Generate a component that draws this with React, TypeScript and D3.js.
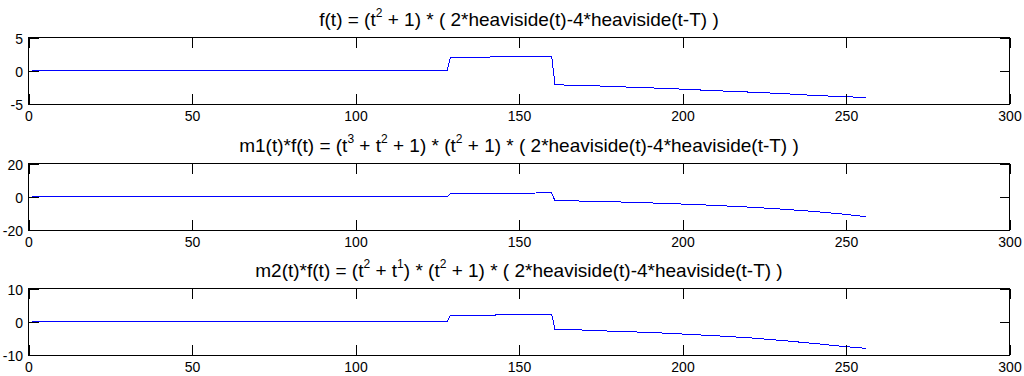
import React, { useEffect, useRef } from "react";
import * as d3 from "d3";

// sample positions (t index)
const tSamples = [1, 128, 129, 140, 150, 160, 161, 170, 180, 190, 200, 210, 220, 230, 240, 250, 256];

// f(t)
const fValues = [0, 0, 2.0, 2.06, 2.12, 2.2, -2.12, -2.2, -2.4, -2.57, -2.77, -3.0, -3.2, -3.42, -3.7, -3.92, -4.0];
// m1(t)*f(t)
const m1fValues = [0, 0, 2.0, 2.1, 2.2, 2.3, -2.4, -2.6, -3.1, -3.7, -4.4, -5.2, -6.2, -7.4, -8.8, -10.6, -12.0];
// m2(t)*f(t)
const m2fValues = [0, 0, 1.9, 2.0, 2.1, 2.3, -2.3, -2.5, -2.9, -3.2, -3.7, -4.2, -4.8, -5.6, -6.5, -7.5, -8.0];

const xTicks = [0, 50, 100, 150, 200, 250, 300];
const yTicks1 = [-5, 0, 5];
const yTicks2 = [-20, 0, 20];
const yTicks3 = [-10, 0, 10];

// title pieces: [text, isSuperscript]
const title1 = [["f(t) = (t", false], ["2", true], [" + 1) * ( 2*heaviside(t)-4*heaviside(t-T) )", false]];
const title2 = [["m1(t)*f(t) = (t", false], ["3", true], [" + t", false], ["2", true], [" + 1) * (t", false], ["2", true], [" + 1) * ( 2*heaviside(t)-4*heaviside(t-T) )", false]];
const title3 = [["m2(t)*f(t) = (t", false], ["2", true], [" + t", false], ["1", true], [") * (t", false], ["2", true], [" + 1) * ( 2*heaviside(t)-4*heaviside(t-T) )", false]];

const panels = [
  { values: fValues, ticks: yTicks1, title: title1, top: 37.5 },
  { values: m1fValues, ticks: yTicks2, title: title2, top: 163.5 },
  { values: m2fValues, ticks: yTicks3, title: title3, top: 288.5 },
];

const FONT = "'Liberation Sans', Arial, Helvetica, sans-serif";

export default function App() {
  const ref = useRef<SVGSVGElement>(null);

  useEffect(() => {
    const svg = d3.select(ref.current);
    svg.selectAll("*").remove();

    const left = 28.5;
    const right = 1009.5;
    const h = 66.5;
    const tick = 10;

    const x = d3.scaleLinear().domain([0, 300]).range([left, right]);

    panels.forEach((p) => {
      const ext = p.ticks[p.ticks.length - 1];
      const y = d3.scaleLinear().domain([-ext, ext]).range([p.top + h, p.top]);
      const g = svg.append("g");

      // title
      const title = g.append("text")
        .attr("x", (left + right) / 2)
        .attr("y", p.top - 12)
        .attr("text-anchor", "middle")
        .style("font-family", FONT)
        .style("font-size", "19px")
        .attr("fill", "#000");
      let raised = false;
      p.title.forEach(([txt, sup]) => {
        const span = title.append("tspan").text(txt as string);
        if (sup && !raised) { span.attr("dy", -9).style("font-size", "12px"); raised = true; }
        else if (!sup && raised) { span.attr("dy", 9); raised = false; }
      });

      // data line
      g.append("path")
        .datum(p.values.map((v, i) => [tSamples[i], v]))
        .attr("d", d3.line().x((d) => x(d[0])).y((d) => y(d[1])))
        .attr("fill", "none")
        .attr("stroke", "#0000ff")
        .attr("stroke-width", 1)
        .attr("shape-rendering", "crispEdges");

      const fmt = (d) => String(d);

      const bottom = g.append("g")
        .attr("transform", `translate(0,${p.top + h})`)
        .call(d3.axisBottom(x).tickValues(xTicks).tickSizeInner(-tick).tickSizeOuter(0).tickPadding(7).tickFormat(fmt));
      const top = g.append("g")
        .attr("transform", `translate(0,${p.top})`)
        .call(d3.axisTop(x).tickValues(xTicks).tickSizeInner(-tick).tickSizeOuter(0).tickFormat(() => ""));
      const leftAx = g.append("g")
        .attr("transform", `translate(${left},0)`)
        .call(d3.axisLeft(y).tickValues(p.ticks).tickSizeInner(-tick).tickSizeOuter(0).tickPadding(5.5).tickFormat(fmt));
      const rightAx = g.append("g")
        .attr("transform", `translate(${right},0)`)
        .call(d3.axisRight(y).tickValues(p.ticks).tickSizeInner(-tick).tickSizeOuter(0).tickFormat(() => ""));

      [bottom, top, leftAx, rightAx].forEach((ax) => {
        ax.select(".domain").remove();
        ax.selectAll("line").attr("stroke", "#000").attr("shape-rendering", "crispEdges");
        ax.selectAll("text")
          .attr("fill", "#000")
          .style("font-family", FONT)
          .style("font-size", "14px");
      });
      leftAx.selectAll("text").attr("dy", "0.4em");

      // axes box
      g.append("rect")
        .attr("x", left)
        .attr("y", p.top)
        .attr("width", right - left)
        .attr("height", h)
        .attr("fill", "none")
        .attr("stroke", "#000")
        .attr("shape-rendering", "crispEdges");
    });
  }, []);

  return (
    <svg
      ref={ref}
      width={1024}
      height={376}
      style={{ position: "absolute", left: 0, top: 0, background: "#fff" }}
    />
  );
}
